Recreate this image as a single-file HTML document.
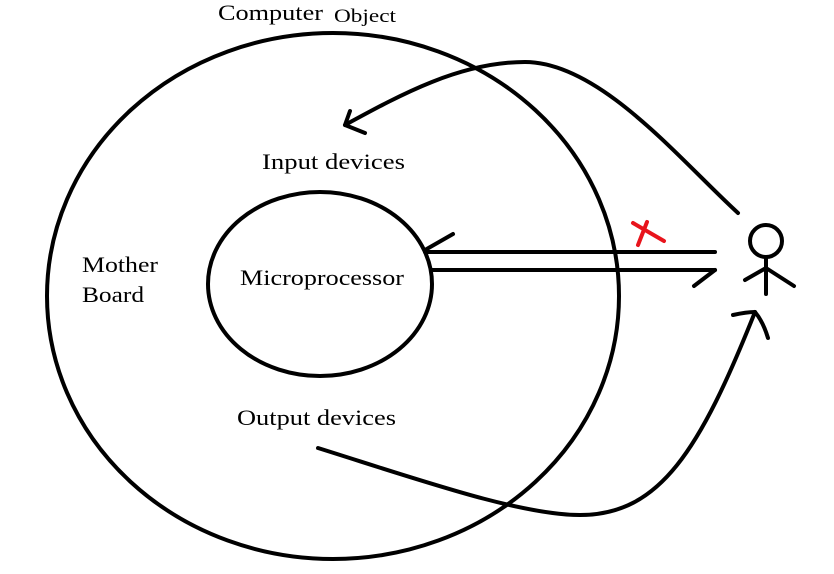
<!DOCTYPE html>
<html><head><style>
html,body{margin:0;padding:0;background:#fff;}
svg{display:block;}
text{font-family:"Liberation Serif",serif;fill:#000;}
</style></head><body>
<svg width="834" height="574" viewBox="0 0 834 574">
<g fill="none" stroke="#000" stroke-width="4" stroke-linecap="round" stroke-linejoin="round">
<ellipse cx="333" cy="296" rx="286" ry="263"/>
<ellipse cx="320" cy="284" rx="112" ry="92"/>
<path d="M738 213 C680 160 600 62 525 62 C460 62 400 95 345 125"/>
<path d="M350 111 L345 125 L365 133"/>
<path d="M425 252 L715 252"/>
<path d="M425 250 L453 234"/>
<path d="M432 270 L715 270"/>
<path d="M694 286 L715 270"/>
<path d="M318 448 C420 480 520 515 580 515 C660 515 700 450 755 312"/>
<path d="M733 315 C742 313 750 312 755 312 C760 318 765 328 768 338"/>
<circle cx="766" cy="241" r="16"/>
<path d="M766 257 L766 294"/>
<path d="M745 280 L766 268 L794 286"/>
</g>
<g stroke="#e8141c" stroke-width="4" stroke-linecap="round">
<path d="M633 223 L664 241"/>
<path d="M647 222 L638 245"/>
</g>
<g font-size="22" lengthAdjust="spacingAndGlyphs">
<text x="218" y="20" textLength="105" lengthAdjust="spacingAndGlyphs">Computer</text>
<text x="334" y="22" font-size="19" textLength="62" lengthAdjust="spacingAndGlyphs">Object</text>
<text x="262" y="169" textLength="143" lengthAdjust="spacingAndGlyphs">Input devices</text>
<text x="82" y="272" textLength="76" lengthAdjust="spacingAndGlyphs">Mother</text>
<text x="82" y="302" textLength="62" lengthAdjust="spacingAndGlyphs">Board</text>
<text x="240" y="285" textLength="164" lengthAdjust="spacingAndGlyphs">Microprocessor</text>
<text x="237" y="425" textLength="159" lengthAdjust="spacingAndGlyphs">Output devices</text>
</g>
</svg>
</body></html>
